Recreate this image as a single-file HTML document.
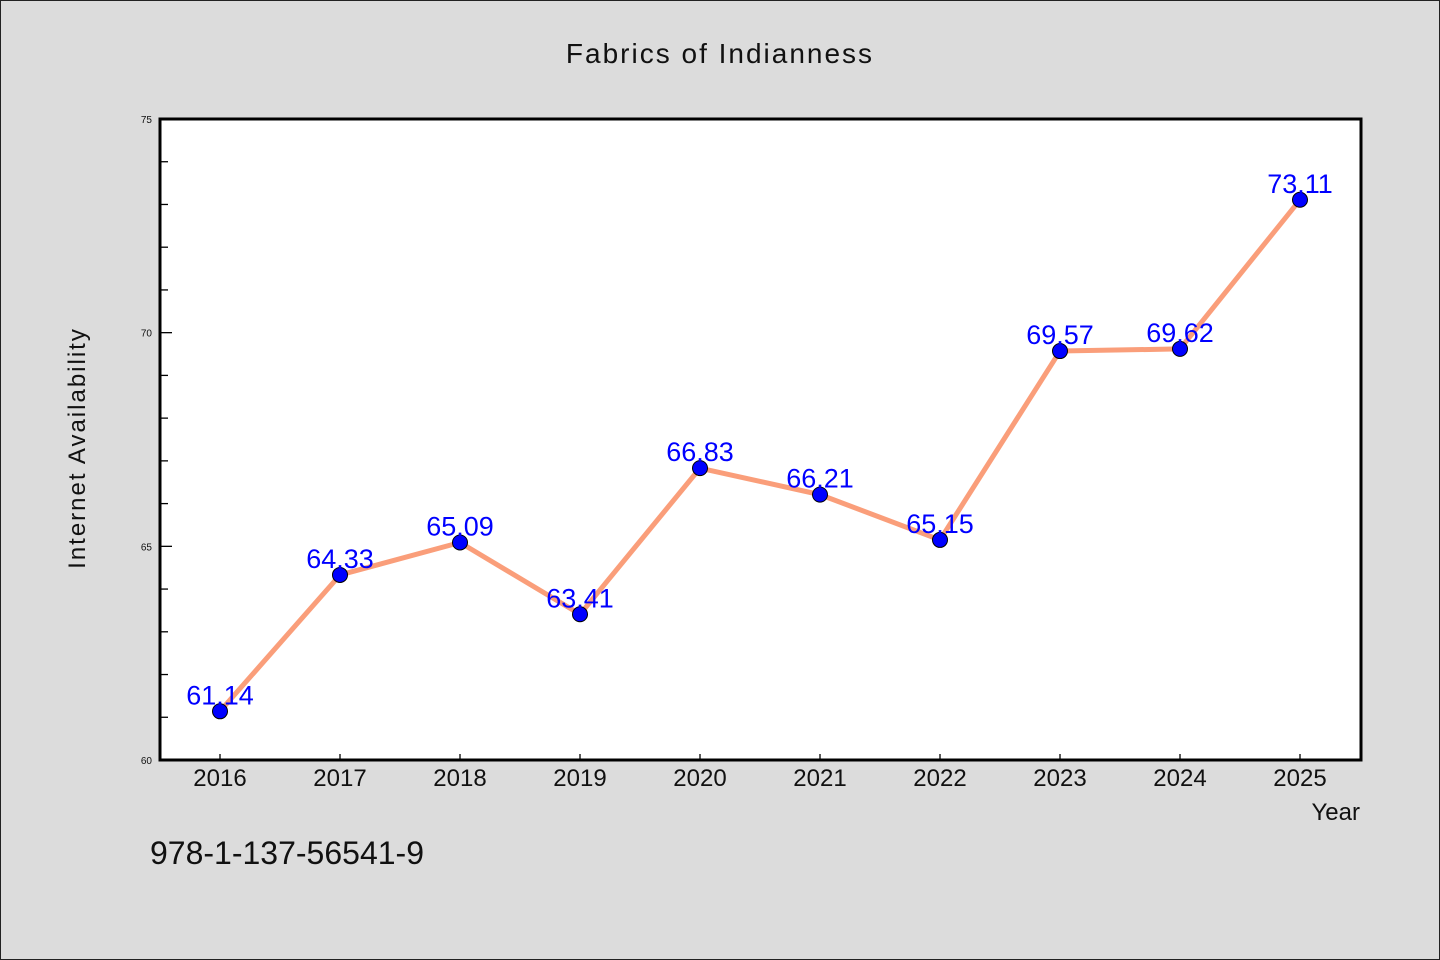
<!DOCTYPE html>
<html><head><meta charset="utf-8"><style>
html,body{margin:0;padding:0;background:#dcdcdc;}
svg{display:block;font-family:"WenQuanYi Zen Hei","Liberation Sans",sans-serif;}
</style></head><body>
<svg id="chart" width="1440" height="960" viewBox="0 0 1440 960">
<rect x="0.5" y="0.5" width="1439" height="959" fill="#dcdcdc" stroke="#222" stroke-width="1"/>
<text x="720" y="63" text-anchor="middle" font-size="28" letter-spacing="2" fill="#111">Fabrics of Indianness</text>
<rect x="160" y="119" width="1201" height="641" fill="#fff" stroke="#000" stroke-width="3"/>
<g id="yaxis"></g>
<g id="xaxis"></g>
<text transform="translate(85,448) rotate(-90)" text-anchor="middle" font-size="24" letter-spacing="2" fill="#111">Internet Availability</text>
<text x="1360" y="820" text-anchor="end" font-size="24" fill="#111">Year</text>
<text x="150" y="864" font-size="32" fill="#111">978-1-137-56541-9</text>
<g id="series"></g>
</svg>
<script>
const years = ["2016","2017","2018","2019","2020","2021","2022","2023","2024","2025"];
const values = [61.14,64.33,65.09,63.41,66.83,66.21,65.15,69.57,69.62,73.11];
const valueLabels = ["61.14","64.33","65.09","63.41","66.83","66.21","65.15","69.57","69.62","73.11"];
const yTicks = [60,65,70,75];
const yMin = 60, yMax = 75;
const NS = "http://www.w3.org/2000/svg";
const X0 = 160, X1 = 1361, Y0 = 760, Y1 = 119;
function xPos(i){ return 220 + i*(1300-220)/(years.length-1); }
function yPos(v){ return Y0 - (v-yMin)/(yMax-yMin)*(Y0-Y1); }
function mk(tag, attrs){ const e=document.createElementNS(NS,tag); for(const k in attrs) e.setAttribute(k,attrs[k]); return e; }
const ya=document.getElementById('yaxis');
for(let v=yMin; v<=yMax; v++){
  const major = yTicks.includes(v);
  const t=mk('line',{x1:X0,x2:X0+(major?12:8),y1:yPos(v),y2:yPos(v),stroke:'#000','stroke-width':1.3});
  
  
  ya.appendChild(t);
}
yTicks.forEach(v=>{
  const t=mk('text',{x:X0-8,y:yPos(v)+4,'text-anchor':'end','font-size':10,fill:'#111'});
  t.textContent=v;
  
  
  ya.appendChild(t);
});
const xa=document.getElementById('xaxis');
years.forEach((y,i)=>{
  const t=mk('line',{x1:xPos(i),x2:xPos(i),y1:Y0,y2:Y0-6,stroke:'#000','stroke-width':1.3});
  
  
  xa.appendChild(t);
  const l=mk('text',{x:xPos(i),y:786,'text-anchor':'middle','font-size':24,fill:'#111'});
  l.textContent=y;
  
  
  xa.appendChild(l);
});
const s=document.getElementById('series');
const pts=values.map((v,i)=>xPos(i)+','+yPos(v)).join(' ');
const line=mk('polyline',{points:pts,fill:'none',stroke:'#fa9e7a','stroke-width':5,'stroke-linejoin':'round'});


s.appendChild(line);
values.forEach((v,i)=>{
  const c=mk('circle',{cx:xPos(i),cy:yPos(v),r:7.5,fill:'#0000ff',stroke:'#000','stroke-width':1});
  
  
  s.appendChild(c);
});
values.forEach((v,i)=>{
  const t=mk('text',{x:xPos(i),y:yPos(v)-7,'text-anchor':'middle','font-size':27,fill:'#0000ff'});
  t.textContent=valueLabels[i];
  
  
  s.appendChild(t);
});
</script>
</body></html>
